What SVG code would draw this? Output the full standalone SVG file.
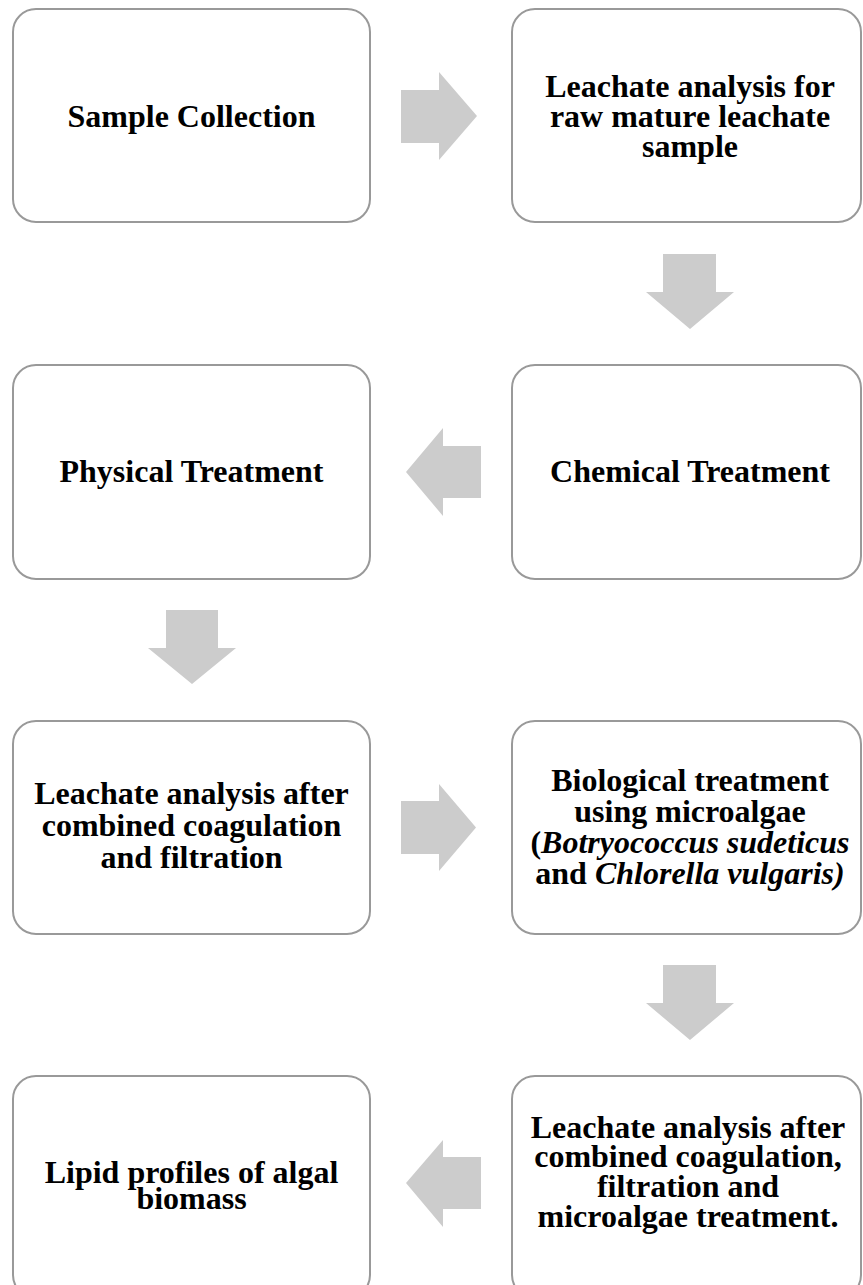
<svg xmlns="http://www.w3.org/2000/svg" width="863" height="1285" viewBox="0 0 863 1285">
<style>
.box{fill:#ffffff;stroke:#999999;stroke-width:2}
.arr{fill:#cccccc;stroke:none}
text{font-family:"Liberation Serif","Times New Roman",serif;font-size:32px;font-weight:bold;fill:#000000;text-anchor:middle}
.it{font-style:italic}
</style>
<rect width="863" height="1285" fill="#ffffff"/>
<g id="connectors">
<polygon class="arr" points="401,90 439,90 439,72 477,116 439,160 439,143 401,143"/>
<polygon class="arr" points="663,254 716,254 716,292 734,292 690,329 646,292 663,292"/>
<polygon class="arr" points="481,446 443,446 443,428 406,472 443,516 443,498 481,498"/>
<polygon class="arr" points="166,610 218,610 218,648 236,648 192,684 148,648 166,648"/>
<polygon class="arr" points="401,801 439,801 439,784 476,827.5 439,871 439,854 401,854"/>
<polygon class="arr" points="663,965 716,965 716,1003 734,1003 690,1040 646,1003 663,1003"/>
<polygon class="arr" points="481,1157 443,1157 443,1140 406,1183 443,1227 443,1209 481,1209"/>
</g>
<g id="n1">
<rect class="box" x="13" y="9" width="357" height="213" rx="23"/>
<text x="191.5" y="127">Sample Collection</text>
</g>
<g id="n2">
<rect class="box" x="512" y="9" width="349" height="213" rx="23"/>
<text x="690" y="97">Leachate analysis for</text>
<text x="690" y="127">raw mature leachate</text>
<text x="690" y="157">sample</text>
</g>
<g id="n3">
<rect class="box" x="512" y="365" width="349" height="214" rx="23"/>
<text x="690" y="482">Chemical Treatment</text>
</g>
<g id="n4">
<rect class="box" x="13" y="365" width="357" height="214" rx="23"/>
<text x="191.5" y="482">Physical Treatment</text>
</g>
<g id="n5">
<rect class="box" x="13" y="721" width="357" height="213" rx="23"/>
<text x="191.5" y="804">Leachate analysis after</text>
<text x="191.5" y="836">combined coagulation</text>
<text x="191.5" y="868">and filtration</text>
</g>
<g id="n6">
<rect class="box" x="512" y="721" width="349" height="213" rx="23"/>
<text x="690" y="791">Biological treatment</text>
<text x="690" y="822">using microalgae</text>
<text x="690" y="853">(<tspan class="it">Botryococcus sudeticus</tspan></text>
<text x="690" y="884">and <tspan class="it">Chlorella vulgaris)</tspan></text>
</g>
<g id="n7">
<rect class="box" x="512" y="1076" width="349" height="222" rx="23"/>
<text x="688" y="1138">Leachate analysis after</text>
<text x="688" y="1167">combined coagulation,</text>
<text x="688" y="1197">filtration and</text>
<text x="688" y="1227">microalgae treatment.</text>
</g>
<g id="n8">
<rect class="box" x="13" y="1076" width="357" height="222" rx="23"/>
<text x="191.5" y="1183">Lipid profiles of algal</text>
<text x="191.5" y="1209">biomass</text>
</g>
</svg>
